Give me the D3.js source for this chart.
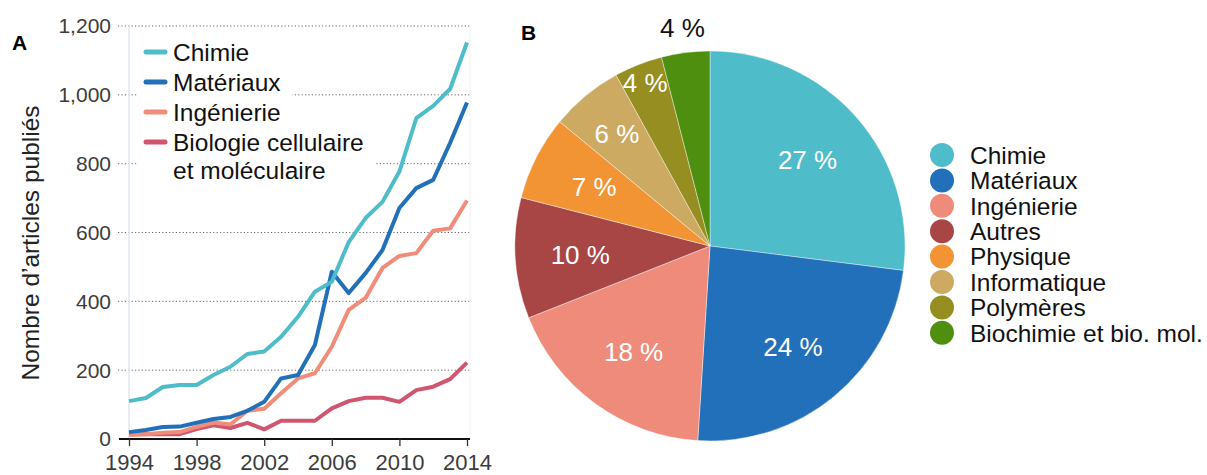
<!DOCTYPE html>
<html>
<head>
<meta charset="utf-8">
<script src="https://cdn.jsdelivr.net/npm/d3@7"></script>
<style>
  body { margin: 0; background: #fff; }
  svg { font-family: "Liberation Sans", Arial, sans-serif; }
</style>
</head>
<body>
<svg width="1207" height="475"></svg>
<script>
// --- data, panel A (articles per year)
const years = d3.range(1994, 2015)
const chimie    = [110,119,151,157,157,186,210,247,254,297,355,428,457,572,642,689,777,932,968,1017,1152]
const materiaux = [20,26,35,36,47,58,64,82,108,176,186,273,486,424,482,549,671,729,753,860,978]
const ingenierie= [12,14,18,20,35,48,42,82,88,133,176,191,268,375,410,497,532,540,605,612,693]
const biologie  = [14,14,14,14,29,40,32,47,28,53,53,53,89,110,120,120,108,142,152,174,222]
const seriesNames = ["Chimie", "Matériaux", "Ingénierie", "Biologie cellulaire|et moléculaire"]
const seriesColors = ["#4fbcc9", "#2270b8", "#f08c7a", "#d0556f"]
const yTicks = [0, 200, 400, 600, 800, 1000, 1200]
const xTicks = [1994, 1998, 2002, 2006, 2010, 2014]

// --- data, panel B (shares)
const pieLabels = ["Chimie","Matériaux","Ingénierie","Autres","Physique","Informatique","Polymères","Biochimie et bio. mol."]
const pieValues = [27, 24, 18, 10, 7, 6, 4, 4]
const pieColors = ["#4fbcc9","#2270b9","#ee8b7a","#a84646","#f29433","#cdaa62","#968e20","#4f8f10"]

const svg = d3.select("svg"),
      formatComma = d3.format(",")

// ================= panel A
const x = d3.scaleLinear().domain([1994, 2014]).range([129, 467]),
      y = d3.scaleLinear().domain([0, 1200]).range([439, 26])

svg.append("text").attr("x", 12).attr("y", 50)
  .style("font-size", "21px").style("font-weight", "bold").text("A")

// gridlines
svg.selectAll(".grid")
    .data(yTicks.filter(d => d > 0))
  .enter().append("line")
    .attr("x1", 118).attr("x2", 470)
    .attr("y1", d => y(d)).attr("y2", d => y(d))
    .style("stroke", "#666").style("stroke-width", 1)
    .style("stroke-dasharray", "1.2,2.2")

// light y axis line
svg.append("line")
  .attr("x1", x(1994)).attr("x2", x(1994)).attr("y1", y(1200)).attr("y2", y(0))
  .style("stroke", "#dfe7ef").style("stroke-width", 1.5)
svg.append("line")
  .attr("x1", 470).attr("x2", 470).attr("y1", y(1200)).attr("y2", y(0))
  .style("stroke", "#eef2f6").style("stroke-width", 1)

// y tick labels
svg.selectAll(".ylab")
    .data(yTicks)
  .enter().append("text")
    .attr("x", 111).attr("y", d => y(d)).attr("dy", "0.35em")
    .style("text-anchor", "end").style("font-size", "21px").style("fill", "#3c3c3c")
    .text(d => formatComma(d))

svg.append("text")
  .attr("transform", "translate(39,243) rotate(-90)")
  .style("text-anchor", "middle").style("font-size", "24.5px").style("fill", "#222")
  .text("Nombre d’articles publiés")

// x axis
const xAxis = d3.axisBottom(x).tickValues(xTicks).tickFormat(d3.format("d"))
  .tickSize(7).tickPadding(8)
const gx = svg.append("g").attr("transform", "translate(0," + y(0) + ")").call(xAxis)
gx.select(".domain").attr("d", "M119,0H470").style("stroke", "#111").style("stroke-width", 2)
gx.selectAll(".tick line").style("stroke", "#333").style("stroke-width", 1.3)
gx.selectAll(".tick text").style("font-size", "22px").style("fill", "#3c3c3c")
  .style("font-family", "Liberation Sans, Arial, sans-serif")

// lines
const line = d3.line().x((d, i) => x(years[i])).y(d => y(d))
const allSeries = [chimie, materiaux, ingenierie, biologie]
svg.selectAll(".series")
    .data(allSeries.slice().reverse())
  .enter().append("path")
    .attr("d", line)
    .style("fill", "none")
    .style("stroke", (d, i) => seriesColors[3 - i])
    .style("stroke-width", 4)
    .style("stroke-linejoin", "round")

// legend A
const legItems = svg.selectAll(".leg").data(seriesNames)
  .enter().append("g").attr("transform", (d, i) => "translate(0," + (52 + i * 30) + ")")
const bg = legItems.append("rect")
  .attr("x", 137).attr("y", -15)
  .attr("height", d => d.includes("|") ? 58 : 30)
  .style("fill", "#fff")
legItems.append("line")
  .attr("x1", 146).attr("x2", 165).attr("y1", 0).attr("y2", 0)
  .style("stroke", (d, i) => seriesColors[i]).style("stroke-width", 5)
  .style("stroke-linecap", "round")
const legText = legItems.append("text")
  .attr("x", 173).attr("y", 0)
  .style("font-size", "24.5px").style("fill", "#111")
legText.selectAll("tspan").data(d => d.split("|"))
  .enter().append("tspan")
    .attr("x", 173).attr("dy", (d, i) => i === 0 ? "0.36em" : "1.15em")
    .text(d => d)
bg.attr("width", function() {
  const t = this.parentNode.querySelector("text").getBBox()
  return t.x + t.width + 12 - 137
})

// ================= panel B
svg.append("text").attr("x", 521).attr("y", 40)
  .style("font-size", "21px").style("font-weight", "bold").text("B")

const cx = 710, cy = 246, R = 195
const pie = d3.pie().sort(null).value(d => d)
const arc = d3.arc().innerRadius(0).outerRadius(R)
const arcs = pie(pieValues)
const gp = svg.append("g").attr("transform", "translate(" + cx + "," + cy + ")")

gp.selectAll(".slice").data(arcs)
  .enter().append("path")
    .attr("d", arc)
    .style("fill", (d, i) => pieColors[i])
    .style("stroke", "#fff").style("stroke-width", 0.4)

// label radii: small slices pushed outward, last one outside
const labelR = [130, 130, 130, 130, 130, 146, 176, 220]
gp.selectAll(".plab").data(arcs)
  .enter().append("text")
    .attr("transform", (d, i) => "translate(" + d3.arc().innerRadius(labelR[i]).outerRadius(labelR[i]).centroid(d) + ")")
    .attr("dy", "0.36em")
    .style("text-anchor", "middle").style("font-size", "26px")
    .style("fill", (d, i) => i === arcs.length - 1 ? "#111" : "#fff")
    .text(d => d.data + " %")

// legend B
const legB = svg.selectAll(".legb").data(pieLabels)
  .enter().append("g").attr("transform", (d, i) => "translate(942," + (155 + i * 25.4) + ")")
legB.append("circle").attr("r", 12).style("fill", (d, i) => pieColors[i])
legB.append("text").attr("x", 28).attr("dy", "0.36em")
  .style("font-size", "24.5px").style("fill", "#111").text(d => d)
</script>
</body>
</html>
